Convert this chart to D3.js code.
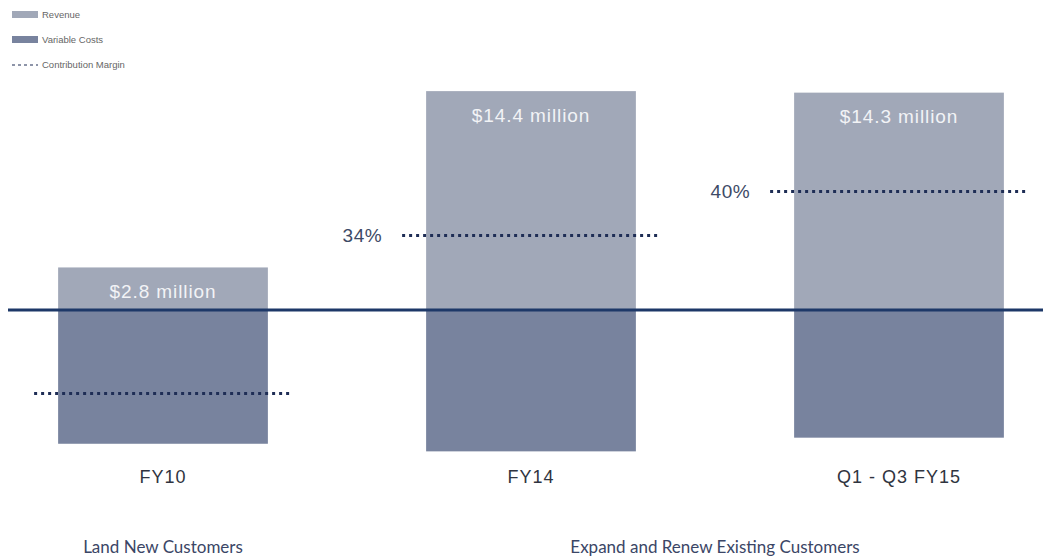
<!DOCTYPE html>
<html lang="en">
<head>
  <meta charset="UTF-8">
  <style type="text/css">
    body {margin:0; background:#fff; font-family: "Liberation Sans", Arial, sans-serif;}
    .cat {font-size:18px; fill:#2f3440; letter-spacing:1px;}
    .val {font-size:19px; fill:#f2f3f6; letter-spacing:0.9px;}
    .pct {font-size:19px; fill:#3d4a66; letter-spacing:0.5px;}
    .group {font: 17px Lato, "Open Sans", sans-serif; fill:#3b4666;}
    .legend {font-size:9.5px; fill:#666;}
  </style>
  <title>Contribution Margin</title>
</head>
<body>
  <svg id="chart" width="1043" height="560"></svg>

  <script src="https://d3js.org/d3.v7.min.js"></script>
  <script type="text/javascript">
    // values in $ millions
    var categories    = ["FY10", "FY14", "Q1 - Q3 FY15"];
    var revenue       = [2.8, 14.4, 14.3];
    var variableCosts = [8.8, 9.3, 8.4];
    var margin        = [-5.5, 4.9, 7.8];
    var revenueLabels = ["$2.8 million", "$14.4 million", "$14.3 million"];
    var marginLabels  = ["", "34%", "40%"];
    var groups = [
      {label: "Land New Customers", from: 0, to: 0},
      {label: "Expand and Renew Existing Customers", from: 1, to: 2}
    ];

    var revColor = "#a1a8b8",
        costColor = "#78839e",
        navy = "#1d3868",
        dotColor = "#1e2d55";

    var svg = d3.select("#chart");

    var x = d3.scaleBand()
        .domain(categories)
        .range([-21, 1083])
        .paddingInner(0.43)
        .paddingOuter(0.215);

    var y = d3.scaleLinear().domain([-10, 15]).range([462, 82]);

    var data = categories.map(function(c, i) {
      return {cat: c, rev: revenue[i], cost: variableCosts[i], m: margin[i],
              revLabel: revenueLabels[i], mLabel: marginLabels[i]};
    });

    // revenue bars (above zero)
    svg.selectAll(".rev")
      .data(data)
      .enter().append("rect")
        .attr("class", "rev")
        .attr("x", d => x(d.cat))
        .attr("y", d => y(d.rev))
        .attr("width", x.bandwidth())
        .attr("height", d => y(0) - y(d.rev))
        .style("fill", revColor);

    // variable cost bars (below zero)
    svg.selectAll(".cost")
      .data(data)
      .enter().append("rect")
        .attr("class", "cost")
        .attr("x", d => x(d.cat))
        .attr("y", y(0))
        .attr("width", x.bandwidth())
        .attr("height", d => y(-d.cost) - y(0))
        .style("fill", costColor);

    // zero line
    svg.append("line")
      .attr("x1", 8).attr("x2", 1043)
      .attr("y1", y(0)).attr("y2", y(0))
      .style("stroke", navy)
      .style("stroke-width", 3);

    // contribution margin dotted lines
    svg.selectAll(".margin")
      .data(data)
      .enter().append("line")
        .attr("class", "margin")
        .attr("x1", d => x(d.cat) - 24)
        .attr("x2", d => x(d.cat) + x.bandwidth() + 24)
        .attr("y1", d => y(d.m))
        .attr("y2", d => y(d.m))
        .style("stroke", dotColor)
        .style("stroke-width", 3)
        .style("stroke-dasharray", "3,4");

    svg.selectAll(".pct")
      .data(data.filter(d => d.mLabel))
      .enter().append("text")
        .attr("class", "pct")
        .attr("x", d => x(d.cat) - 44)
        .attr("y", d => y(d.m))
        .attr("dy", "0.35em")
        .style("text-anchor", "end")
        .text(d => d.mLabel);

    // revenue labels inside bars
    svg.selectAll(".val")
      .data(data)
      .enter().append("text")
        .attr("class", "val")
        .attr("x", d => x(d.cat) + x.bandwidth() / 2)
        .attr("y", d => y(d.rev) + 24)
        .attr("dy", "0.35em")
        .style("text-anchor", "middle")
        .text(d => d.revLabel);

    // category labels
    svg.selectAll(".cat")
      .data(data)
      .enter().append("text")
        .attr("class", "cat")
        .attr("x", d => x(d.cat) + x.bandwidth() / 2)
        .attr("y", 477)
        .attr("dy", "0.35em")
        .style("text-anchor", "middle")
        .text(d => d.cat);

    // group labels
    svg.selectAll(".group")
      .data(groups)
      .enter().append("text")
        .attr("class", "group")
        .attr("x", d => (x(categories[d.from]) + x(categories[d.to]) + x.bandwidth()) / 2)
        .attr("y", 547)
        .attr("dy", "0.35em")
        .style("text-anchor", "middle")
        .text(d => d.label);

    // legend
    var legend = svg.append("g").attr("transform", "translate(12,0)");
    var items = [
      {label: "Revenue", type: "rect", color: revColor},
      {label: "Variable Costs", type: "rect", color: costColor},
      {label: "Contribution Margin", type: "dash", color: dotColor}
    ];
    items.forEach(function(it, i) {
      var cy = 15 + i * 25;
      if (it.type === "rect") {
        legend.append("rect")
          .attr("x", 0).attr("y", cy - 4)
          .attr("width", 26).attr("height", 7)
          .style("fill", it.color);
      } else {
        legend.append("line")
          .attr("x1", 0).attr("x2", 26)
          .attr("y1", cy).attr("y2", cy)
          .style("stroke", it.color)
          .style("stroke-width", 1.2)
          .style("stroke-dasharray", "3,3");
      }
      legend.append("text")
        .attr("class", "legend")
        .attr("x", 30).attr("y", cy)
        .attr("dy", "0.35em")
        .text(it.label);
    });
  </script>
</body>
</html>
